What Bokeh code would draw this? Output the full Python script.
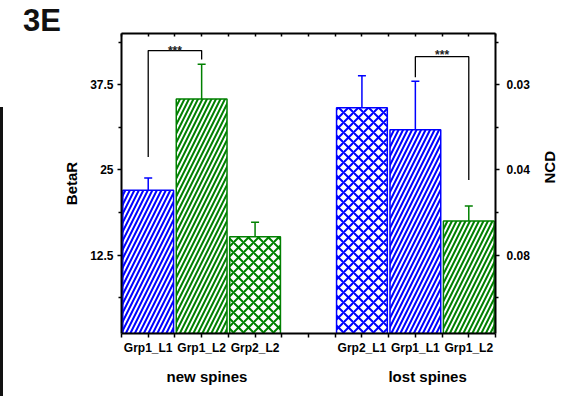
import math

from bokeh.plotting import figure
from bokeh.layouts import row, column
from bokeh.models import (FixedTicker, LinearAxis, Range1d, ColumnDataSource,
                          Whisker, TeeHead, Div)
from bokeh.core.properties import field, value
from bokeh.embed import file_html
from bokeh.resources import INLINE

# Bar data: BetaR per group (left axis); NCD is shown on a paired right axis
categories = ["Grp1_L1", "Grp1_L2", "Grp2_L2", "Grp2_L1", "Grp1_L1", "Grp1_L2"]
positions = [1, 2, 3, 5, 6, 7]
betar = [22.0, 35.4, 15.2, 34.1, 30.9, 17.5]
errors = [1.8, 5.1, 2.1, 4.7, 7.1, 2.2]
colors = ["#0000ff", "#008000", "#008000", "#0000ff", "#0000ff", "#008000"]
hatches = ["/", "/", "x", "x", "/", "/"]

groups = ["new spines", "lost spines"]
group_centers = [2.1, 6.23]

left_ticks = [12.5, 25, 37.5]
left_minor = [6.25, 18.75, 31.25, 43.75]
ncd_labels = ["0.08", "0.04", "0.03"]

# significance brackets
bracket_xs = [[1, 1, 2, 2], [6, 6, 7, 7]]
bracket_ys = [[26.9, 42.5, 42.5, 41.2], [38.6, 41.6, 41.6, 23.5]]
star_x = [1.5, 6.5]
star_y = [42.4, 41.9]
star_text = ["***", "***"]

FONT = "Liberation Sans"
HATCH_SCALE = {"/": 9, "x": 10}

src = ColumnDataSource(dict(
    x=positions, top=betar, color=colors, hatch=hatches,
    hscale=[HATCH_SCALE[h] for h in hatches],
    lower=[v - e for v, e in zip(betar, errors)],
    upper=[v + e for v, e in zip(betar, errors)],
))

p = figure(width=578, height=364, x_range=Range1d(0.5, 7.5), y_range=Range1d(1, 45),
           output_backend="svg", toolbar_location=None,
           min_border_left=118, min_border_right=86, min_border_top=1, min_border_bottom=63)
p.xgrid.visible = False
p.ygrid.visible = False
p.outline_line_color = None
p.background_fill_color = "white"
p.border_fill_color = "white"

p.vbar(x="x", top="top", bottom=0, width=0.95, source=src,
       fill_color="white", line_color="color", line_width=1.5,
       hatch_pattern="hatch", hatch_color="color", hatch_scale="hscale", hatch_weight=2)

whisk = Whisker(base="x", lower="lower", upper="upper", source=src,
                line_color=field("color"), line_width=1.5,
                upper_head=TeeHead(size=8, line_color=field("color"), line_width=1.5),
                lower_head=TeeHead(size=8, line_color=field("color"), line_width=1.5))
p.add_layout(whisk)

p.multi_line(xs=bracket_xs, ys=bracket_ys, line_color="black", line_width=1.3)
p.text(x=star_x, y=star_y, text=star_text, text_align="center", text_baseline="alphabetic",
       text_font=value(FONT), text_font_size="12px", text_font_style="bold", text_color="#222")

x_ticker = FixedTicker(ticks=[1, 2, 3, 4, 5, 6, 7], minor_ticks=[0.5 + i for i in range(8)])
overrides = {pos: cat for pos, cat in zip(positions, categories)}
overrides[4] = ""


def style_axis(ax):
    ax.axis_line_width = 2
    ax.axis_line_color = "black"
    ax.major_tick_line_width = 1.5
    ax.minor_tick_line_width = 1.5
    ax.major_label_text_font = FONT
    ax.major_label_text_font_style = "bold"
    ax.major_label_text_font_size = "12px"
    ax.major_label_text_color = "black"
    ax.axis_label_text_font = FONT
    ax.axis_label_text_font_style = "bold"
    ax.axis_label_text_font_size = "15px"
    ax.axis_label_text_color = "black"


bottom = p.xaxis[0]
bottom.ticker = x_ticker
bottom.major_label_overrides = overrides
bottom.major_tick_in = 0
bottom.major_tick_out = 4
bottom.minor_tick_in = 0
bottom.minor_tick_out = 4
bottom.major_label_standoff = 3
style_axis(bottom)

group_axis = LinearAxis(ticker=FixedTicker(ticks=group_centers),
                        major_label_overrides={c: g for c, g in zip(group_centers, groups)},
                        axis_line_color=None, major_tick_line_color=None,
                        minor_tick_line_color=None, major_label_standoff=4)
style_axis(group_axis)
group_axis.axis_line_color = None
group_axis.major_label_text_font_size = "15px"
p.add_layout(group_axis, "below")

top = LinearAxis(ticker=x_ticker, major_label_text_alpha=0,
                 major_tick_in=3, major_tick_out=0, minor_tick_in=3, minor_tick_out=0)
style_axis(top)
top.major_label_text_font_size = "0px"
top.major_label_standoff = 0
p.add_layout(top, "above")

left = p.yaxis[0]
left.ticker = FixedTicker(ticks=left_ticks, minor_ticks=left_minor)
left.axis_label = "BetaR"
left.major_tick_in = 0
left.major_tick_out = 4
left.minor_tick_in = 0
left.minor_tick_out = 3
left.major_label_standoff = 4
left.axis_label_standoff = 7
style_axis(left)

right = LinearAxis(ticker=FixedTicker(ticks=left_ticks, minor_ticks=left_minor),
                   major_label_overrides={t: lab for t, lab in zip(left_ticks, ncd_labels)},
                   axis_label="NCD", major_tick_in=0, major_tick_out=4,
                   minor_tick_in=0, minor_tick_out=3, major_label_standoff=7,
                   axis_label_standoff=17, axis_label_orientation=math.pi / 2)
style_axis(right)
p.add_layout(right, "right")

# panel tag above the plot and a thin rule down the left edge
tag = Div(width=578, height=32, margin=0,
          text='<div style="font-family:\'Liberation Sans\';font-weight:bold;font-size:31px;'
               'line-height:31px;color:#111;padding-left:20px;padding-top:5px">3E</div>')
rule = Div(width=3, height=396, margin=0,
           text='<div style="margin-top:107px;height:289px;width:2.5px;background:#111"></div>')

layout = row(rule, column(tag, p, spacing=0), spacing=0)

open("out.html", "w").write(file_html(layout, INLINE))
